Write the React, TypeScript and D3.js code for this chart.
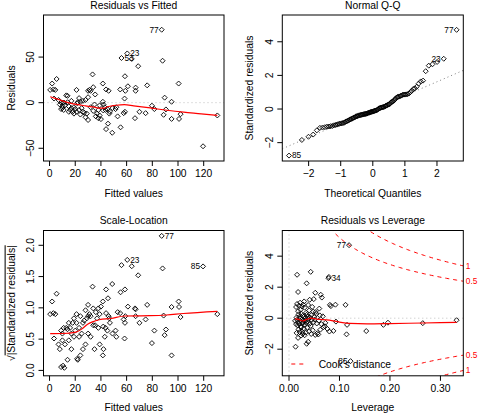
import React from "react";
import * as d3 from "d3";

const FONT = "'Liberation Sans', Arial, Helvetica, sans-serif";
const W = 479;
const H = 413;

// ---------- Residuals vs Fitted / Scale-Location data ----------
const fittedValues = [
  87.3, 60.5, 56, 119.5,
  0.5, 2, 3, 4.5, 5.5, 3.5, 7, 8, 9, 10, 10, 11, 9, 10.5, 11.5,
  12, 13, 14, 14, 15, 15, 16, 17, 18, 19, 17, 19, 20,
  21, 21, 22, 23, 23, 24, 25, 26, 26, 28, 28, 29, 30, 30, 30, 27, 24, 21.5,
  31, 32, 32, 33.5, 34, 34, 35, 35.5, 36, 37, 38, 38, 39, 40, 39,
  41.5, 41.5, 43, 44, 44, 45.5, 46, 43.6, 45, 46.5, 48.8, 41.8, 47, 42, 49,
  51.4, 52, 53, 55, 55.3, 57.7, 58.7, 58.4, 58.7, 59, 61,
  64, 66.5, 67, 67, 69, 70, 74.8, 76, 79.7,
  81.6, 88, 88.8, 89.6, 90.6, 95, 95, 100.5, 100.8, 102, 130.6,
];
const residualValues = [
  80, 54, 49, -47.8,
  14, 21, 14.5, 14, 26, 4.5, 3, -2, -7, -4, -6, -8, 0.05, 0.1, -0.03,
  -3, 8, 7.5, 0.5, -4, -10, -8, -6, -10, -5, 2, -12, -7,
  14, -10, 0.5, 5, -8, -13, -6, 2, -10, -16, 3, -12, 6, 13, -19, -11, 1, -0.6,
  14, 13, -5, 31, 17, -9, -2, 9, -15, -12, -8, -17, -3, -18, -14,
  21, 1, -5, 14.5, -29, -23, 13, -8, -7, -12, -33, -8.5, -10, -2, -6,
  -7, -5, -15, 14.5, -27, -11.5, -10, 4.5, 29, 13, 18,
  48, -17, 16.5, 13, 40, -10, -11.5, 19, -3.3,
  -7, 46, -13.3, 5.5, -7.4, 1, -17.8, 21, -17.8, -12.6, -14,
];
const fitObsIds = ["77", "23", "53", "85"];
const residualLabelIds = ["77", "23", "53"];
const scaleLocLabelIds = ["77", "23", "85"];
const residualSE = 17.3;

const fittedSmoothX = [0.5, 5, 11.5, 16, 21.8, 28, 34.8, 39, 42.6, 45, 47.8, 52, 58.2, 65.5, 78.4, 91.4, 104.4, 118, 130.6];
const fittedSmoothY = [6.5, 4.5, 1.4, -0.5, -2.2, -3.5, -4.9, -6, -6, -4.5, -3.7, -2.8, -2.2, -3.5, -5.8, -8.3, -10.4, -12.2, -14];

const scaleSmoothX = [0.5, 10, 20.6, 25, 29.6, 34, 38.7, 47.8, 58.2, 78, 91, 104, 130.6];
const scaleSmoothY = [0.587, 0.59, 0.613, 0.66, 0.739, 0.78, 0.81, 0.83, 0.87, 0.875, 0.886, 0.91, 0.945];

// ---------- Residuals vs Leverage / Normal Q-Q data ----------
const leverageValues = [
  0.119, 0.078, 0.122, 0.043,
  0.013, 0.035, 0.038,
  0.018, 0.052, 0.114, 0.024, 0.031, 0.044, 0.027, 0.058,
  0.056, 0.08, 0.076, 0.068, 0.088, 0.153, 0.115, 0.187, 0.015, 0.021, 0.026, 0.033,
  0.040, 0.047, 0.019, 0.029, 0.036, 0.062, 0.024, 0.043, 0.017, 0.071, 0.031, 0.024,
  0.093, 0.196, 0.265, 0.332, 0.014, 0.020, 0.027, 0.034, 0.041, 0.048, 0.055, 0.064,
  0.018, 0.023, 0.030, 0.037, 0.045, 0.016, 0.026, 0.033, 0.039, 0.051, 0.072, 0.022,
  0.028, 0.059, 0.012,
  0.015, 0.021, 0.027, 0.032, 0.038, 0.044, 0.050, 0.019, 0.025, 0.035, 0.042, 0.061,
  0.067, 0.029, 0.054,
  0.081, 0.083, 0.092, 0.112, 0.014, 0.020, 0.026, 0.031, 0.038, 0.046, 0.053, 0.018,
  0.023, 0.034, 0.040, 0.060, 0.028, 0.048,
  0.016, 0.022, 0.030, 0.041, 0.049, 0.079,
  0.065, 0.063, 0.052, 0.018, 0.035,
  0.016,
];
const stdResidValues = [
  4.71, 2.58, -2.77, 2.99,
  -1.84, -1.65, -1.52,
  -1.27, -1.08, -1.04, -1.12, -1.10, -1.02, -1.01, -1.05,
  -0.97, -0.86, -0.69, -0.58, -0.82, -0.83, -0.43, -0.43, -0.95, -0.90, -0.88, -0.93,
  -0.85, -0.78, -0.72, -0.66, -0.62, -0.74, -0.55, -0.50, -0.47, -0.52, -0.42, -0.60,
  -0.22, -0.29, -0.32, -0.13, -0.38, -0.35, -0.33, -0.30, -0.36, -0.28, -0.34, -0.38,
  -0.25, -0.20, -0.18, -0.22, -0.12, -0.10, -0.08, -0.15, -0.05, -0.09, -0.30, -0.02,
  -0.27, -0.16, -0.17,
  0.05, 0.10, 0.15, 0.02, 0.12, 0.20, 0.08, 0.25, 0.28, 0.22, 0.05, 0.18,
  0.12, 0.09, 0.27,
  0.86, 0.78, 0.87, 0.86, 0.72, 0.80, 0.75, 0.68, 0.85, 0.73, 0.40, 0.45,
  0.55, 0.35, 0.50, 0.62, 0.88, 0.43,
  0.92, 1.00, 1.08, 1.19, 1.23, 2.66,
  1.33, 1.51, 1.64, 1.69, 2.25,
  2.80,
];
const levObsIds = ["77", "34", "85", "23"];
const qqLabelIds = ["77", "23", "85"];
const leverageLabelIds = ["77", "34", "85"];

const levSmoothX = [0.012, 0.017, 0.027, 0.035, 0.044, 0.054, 0.08, 0.1, 0.12, 0.155, 0.2, 0.265, 0.332];
const levSmoothY = [-0.05, -0.06, -0.18, -0.08, 0.0, -0.06, -0.12, -0.25, -0.34, -0.37, -0.35, -0.31, -0.27];

const cookLevels = [0.5, 1];
const nCoef = 6;

// ---------- tick labels ----------
const fittedTicks = [0, 20, 40, 60, 80, 100, 120];
const residTicks = [-50, 0, 50];
const qqXTicks = [-2, -1, 0, 1, 2];
const stdTicks = [-2, 0, 2, 4];
const sqrtTicks = [0, 0.5, 1, 1.5, 2];
const levTicks = [0, 0.1, 0.2, 0.3];

// ---------- helpers ----------
type Box = { l: number; r: number; t: number; b: number };
const B1: Box = { l: 43.5, r: 224, t: 15, b: 161 };
const B2: Box = { l: 282.3, r: 463.3, t: 15, b: 161 };
const B3: Box = { l: 43.5, r: 224, t: 230.5, b: 375.8 };
const B4: Box = { l: 282.3, r: 463.3, t: 230.5, b: 375.8 };

const pad = (lo: number, hi: number, f = 0.04): [number, number] => [lo - (hi - lo) * f, hi + (hi - lo) * f];
const minus = (s: string) => s.replace("-", "\u2212");

function qnorm(p: number): number {
  const a = [-3.969683028665376e1, 2.209460984245205e2, -2.759285104469687e2, 1.38357751867269e2, -3.066479806614716e1, 2.506628277459239];
  const b = [-5.447609879822406e1, 1.615858368580409e2, -1.556989798598866e2, 6.680131188771972e1, -1.328068155288572e1];
  const c = [-7.784894002430293e-3, -3.223964580411365e-1, -2.400758277161838, -2.549732539343734, 4.374664141464968, 2.938163982698783];
  const d = [7.784695709041462e-3, 3.224671290700398e-1, 2.445134137142996, 3.754408661907416];
  const pl = 0.02425;
  if (p < pl) {
    const q = Math.sqrt(-2 * Math.log(p));
    return (((((c[0] * q + c[1]) * q + c[2]) * q + c[3]) * q + c[4]) * q + c[5]) / ((((d[0] * q + d[1]) * q + d[2]) * q + d[3]) * q + 1);
  }
  if (p > 1 - pl) {
    const q = Math.sqrt(-2 * Math.log(1 - p));
    return -(((((c[0] * q + c[1]) * q + c[2]) * q + c[3]) * q + c[4]) * q + c[5]) / ((((d[0] * q + d[1]) * q + d[2]) * q + d[3]) * q + 1);
  }
  const q = p - 0.5;
  const r = q * q;
  return ((((((a[0] * r + a[1]) * r + a[2]) * r + a[3]) * r + a[4]) * r + a[5]) * q) / (((((b[0] * r + b[1]) * r + b[2]) * r + b[3]) * r + b[4]) * r + 1);
}

const diamond = (x: number, y: number, r = 2.5) => `M${x},${y - r}L${x + r},${y}L${x},${y + r}L${x - r},${y}Z`;

type Scale = d3.ScaleLinear<number, number>;

function Frame(props: {
  box: Box; x: Scale; y: Scale; xTicks: number[]; yTicks: number[];
  xFmt: (v: number) => string; yFmt: (v: number) => string;
  title: string; xLabel: string; yLabel: React.ReactNode;
}) {
  const { box, x, y, xTicks, yTicks, xFmt, yFmt, title, xLabel, yLabel } = props;
  const cx = (box.l + box.r) / 2;
  const cy = (box.t + box.b) / 2;
  return (
    <g fontFamily={FONT} fontSize={10.3} fill="#000">
      <rect x={box.l} y={box.t} width={box.r - box.l} height={box.b - box.t} fill="none" stroke="#000" strokeWidth={1} />
      {xTicks.map((t) => (
        <g key={"x" + t}>
          <line x1={x(t)} x2={x(t)} y1={box.b} y2={box.b + 5} stroke="#000" />
          <text x={x(t)} y={box.b + 16.3} textAnchor="middle">{minus(xFmt(t))}</text>
        </g>
      ))}
      {yTicks.map((t) => (
        <g key={"y" + t}>
          <line x1={box.l - 5} x2={box.l} y1={y(t)} y2={y(t)} stroke="#000" />
          <text transform={`translate(${box.l - 12.8},${y(t)}) rotate(-90)`} textAnchor="middle" dy="0.35em">{minus(yFmt(t))}</text>
        </g>
      ))}
      <text x={cx} y={box.t - 6.5} textAnchor="middle">{title}</text>
      <text x={cx} y={box.b + 35.5} textAnchor="middle">{xLabel}</text>
      <text transform={`translate(${box.l - 32.5},${cy}) rotate(-90)`} textAnchor="middle" dy="0.35em">{yLabel}</text>
    </g>
  );
}

function IdLabel({ x, y, id, left }: { x: number; y: number; id: string; left: boolean }) {
  return (
    <text x={left ? x - 3 : x + 3} y={y} dy="0.35em" textAnchor={left ? "end" : "start"} fontFamily={FONT} fontSize={8.3} fill="#000">
      {id}
    </text>
  );
}

function labelSide(xs: number[]) {
  const mid = (d3.min(xs)! + d3.max(xs)!) / 2;
  return xs.map((v) => v > mid);
}

export default function App() {
  const n = fittedValues.length;

  // Panel 1
  const x1 = d3.scaleLinear().domain(pad(d3.min(fittedValues)!, d3.max(fittedValues)!)).range([B1.l, B1.r]);
  const r8 = pad(d3.min(residualValues)!, d3.max(residualValues)!, 0.08);
  const y1 = d3.scaleLinear().domain(pad(r8[0], r8[1])).range([B1.b, B1.t]);
  const line1 = d3.line<number>().x((_, i) => x1(fittedSmoothX[i])).y((v) => y1(v)).curve(d3.curveMonotoneX);
  const lab1 = residualLabelIds.map((id) => fitObsIds.indexOf(id));
  const side1 = labelSide(lab1.map((i) => fittedValues[i]));

  // Panel 3
  const sqrtAbs = residualValues.map((r) => Math.sqrt(Math.abs(r) / residualSE));
  const x3 = d3.scaleLinear().domain(x1.domain()).range([B3.l, B3.r]);
  const y3 = d3.scaleLinear().domain(pad(0, d3.max(sqrtAbs)!)).range([B3.b, B3.t]);
  const line3 = d3.line<number>().x((_, i) => x3(scaleSmoothX[i])).y((v) => y3(v)).curve(d3.curveMonotoneX);
  const lab3 = scaleLocLabelIds.map((id) => fitObsIds.indexOf(id));
  const side3 = labelSide(lab3.map((i) => fittedValues[i]));

  // Panel 2 (Q-Q)
  const m = stdResidValues.length;
  const order = d3.range(m).sort((a, b) => stdResidValues[a] - stdResidValues[b]);
  const theo = new Array(m);
  order.forEach((idx, rank) => { theo[idx] = qnorm((rank + 1 - 0.5) / m); });
  const sMin = d3.min(stdResidValues)!;
  const sMax = d3.max(stdResidValues)!;
  const x2 = d3.scaleLinear().domain(pad(d3.min(theo)!, d3.max(theo)!)).range([B2.l, B2.r]);
  const y2 = d3.scaleLinear().domain(pad(sMin, sMax + 0.075 * (sMax - sMin))).range([B2.b, B2.t]);
  const sorted = order.map((i) => stdResidValues[i]);
  const q25 = d3.quantile(sorted, 0.25)!;
  const q75 = d3.quantile(sorted, 0.75)!;
  const slope = (q75 - q25) / (qnorm(0.75) - qnorm(0.25));
  const icpt = q25 - slope * qnorm(0.25);
  const [qx0, qx1] = x2.domain();
  const lab2 = qqLabelIds.map((id) => levObsIds.indexOf(id));
  const side2 = labelSide(lab2.map((i) => theo[i]));

  // Panel 4
  const x4 = d3.scaleLinear().domain(pad(0, d3.max(leverageValues)!)).range([B4.l, B4.r]);
  const s8 = pad(sMin, sMax, 0.08);
  const y4 = d3.scaleLinear().domain(pad(s8[0], s8[1])).range([B4.b, B4.t]);
  const line4 = d3.line<number>().x((_, i) => x4(levSmoothX[i])).y((v) => y4(v)).curve(d3.curveMonotoneX);
  const hMin = d3.min(leverageValues)!;
  const hMax = x4.domain()[1];
  const hh = d3.range(101).map((i) => hMin + ((hMax - hMin) * i) / 100);
  const cookLine = d3.line<number>().x((h) => x4(h));
  const lab4 = leverageLabelIds.map((id) => levObsIds.indexOf(id));
  const side4 = labelSide(lab4.map((i) => leverageValues[i]));
  const xmaxCook = Math.min(0.99, hMax);

  const fmtInt = (v: number) => String(v);

  return (
    <svg width={W} height={H} style={{ position: "absolute", left: 0, top: 0, background: "#fff" }}>
      <defs>
        {[B1, B2, B3, B4].map((b, i) => (
          <clipPath id={"clip" + (i + 1)} key={i}>
            <rect x={b.l} y={b.t} width={b.r - b.l} height={b.b - b.t} />
          </clipPath>
        ))}
      </defs>

      {/* Panel 1: Residuals vs Fitted */}
      <g clipPath="url(#clip1)">
        <line x1={B1.l} x2={B1.r} y1={y1(0)} y2={y1(0)} stroke="#BEBEBE" strokeDasharray="1,3" />
        {fittedValues.map((f, i) => (
          <path key={i} d={diamond(x1(f), y1(residualValues[i]))} fill="none" stroke="#000" strokeWidth={0.9} />
        ))}
        <path d={line1(fittedSmoothY) || ""} fill="none" stroke="#FF0000" strokeWidth={1.2} />
      </g>
      {lab1.map((i, k) => (
        <IdLabel key={k} x={x1(fittedValues[i])} y={y1(residualValues[i])} id={fitObsIds[i]} left={side1[k]} />
      ))}
      <Frame box={B1} x={x1} y={y1} xTicks={fittedTicks} yTicks={residTicks} xFmt={fmtInt} yFmt={fmtInt}
        title="Residuals vs Fitted" xLabel="Fitted values" yLabel="Residuals" />

      {/* Panel 2: Normal Q-Q */}
      <g clipPath="url(#clip2)">
        <line x1={x2(qx0)} x2={x2(qx1)} y1={y2(icpt + slope * qx0)} y2={y2(icpt + slope * qx1)} stroke="#7F7F7F" strokeDasharray="1,3" />
        {stdResidValues.map((s, i) => (
          <path key={i} d={diamond(x2(theo[i]), y2(s))} fill="none" stroke="#000" strokeWidth={0.9} />
        ))}
      </g>
      {lab2.map((i, k) => (
        <IdLabel key={k} x={x2(theo[i])} y={y2(stdResidValues[i])} id={levObsIds[i]} left={side2[k]} />
      ))}
      <Frame box={B2} x={x2} y={y2} xTicks={qqXTicks} yTicks={stdTicks} xFmt={fmtInt} yFmt={fmtInt}
        title="Normal Q-Q" xLabel="Theoretical Quantiles" yLabel="Standardized residuals" />

      {/* Panel 3: Scale-Location */}
      <g clipPath="url(#clip3)">
        {fittedValues.map((f, i) => (
          <path key={i} d={diamond(x3(f), y3(sqrtAbs[i]))} fill="none" stroke="#000" strokeWidth={0.9} />
        ))}
        <path d={line3(scaleSmoothY) || ""} fill="none" stroke="#FF0000" strokeWidth={1.2} />
      </g>
      {lab3.map((i, k) => (
        <IdLabel key={k} x={x3(fittedValues[i])} y={y3(sqrtAbs[i])} id={fitObsIds[i]} left={side3[k]} />
      ))}
      <Frame box={B3} x={x3} y={y3} xTicks={fittedTicks} yTicks={sqrtTicks} xFmt={fmtInt} yFmt={(v) => v.toFixed(1)}
        title="Scale-Location" xLabel="Fitted values"
        yLabel={<><tspan>{"\u221A"}</tspan><tspan style={{ textDecoration: "overline" }}>|Standardized residuals|</tspan></>} />

      {/* Panel 4: Residuals vs Leverage */}
      <g clipPath="url(#clip4)">
        <line x1={B4.l} x2={B4.r} y1={y4(0)} y2={y4(0)} stroke="#BEBEBE" strokeDasharray="1,3" />
        <line x1={x4(0)} x2={x4(0)} y1={B4.t} y2={B4.b} stroke="#BEBEBE" strokeDasharray="1,3" />
        {leverageValues.map((h, i) => (
          <path key={i} d={diamond(x4(h), y4(stdResidValues[i]))} fill="none" stroke="#000" strokeWidth={0.9} />
        ))}
        <path d={line4(levSmoothY) || ""} fill="none" stroke="#FF0000" strokeWidth={1.2} />
        {cookLevels.map((lv) =>
          [1, -1].map((sg) => (
            <path key={lv + "_" + sg}
              d={cookLine.y((h) => y4(sg * Math.sqrt((lv * nCoef * (1 - h)) / h)))(hh) || ""}
              fill="none" stroke="#FF0000" strokeDasharray="4,4" strokeWidth={1} />
          ))
        )}
      </g>
      {lab4.map((i, k) => (
        <IdLabel key={k} x={x4(leverageValues[i])} y={y4(stdResidValues[i])} id={levObsIds[i]} left={side4[k]} />
      ))}
      {cookLevels.map((lv) =>
        [1, -1].map((sg) => (
          <text key={"cl" + lv + sg} x={B4.r + 2.5} y={y4(sg * Math.sqrt((lv * nCoef * (1 - xmaxCook)) / xmaxCook))} dy="0.35em"
            fontFamily={FONT} fontSize={8.3} fill="#FF0000">{String(lv)}</text>
        ))
      )}
      <line x1={B4.l + 9} x2={B4.l + 24} y1={B4.b - 11.8} y2={B4.b - 11.8} stroke="#FF0000" strokeDasharray="4,4" />
      <text x={B4.l + 36.4} y={B4.b - 11.8} dy="0.35em" fontFamily={FONT} fontSize={10.3} fill="#000">Cook's distance</text>
      <Frame box={B4} x={x4} y={y4} xTicks={levTicks} yTicks={stdTicks} xFmt={(v) => v.toFixed(2)} yFmt={fmtInt}
        title="Residuals vs Leverage" xLabel="Leverage" yLabel="Standardized residuals" />
    </svg>
  );
}
